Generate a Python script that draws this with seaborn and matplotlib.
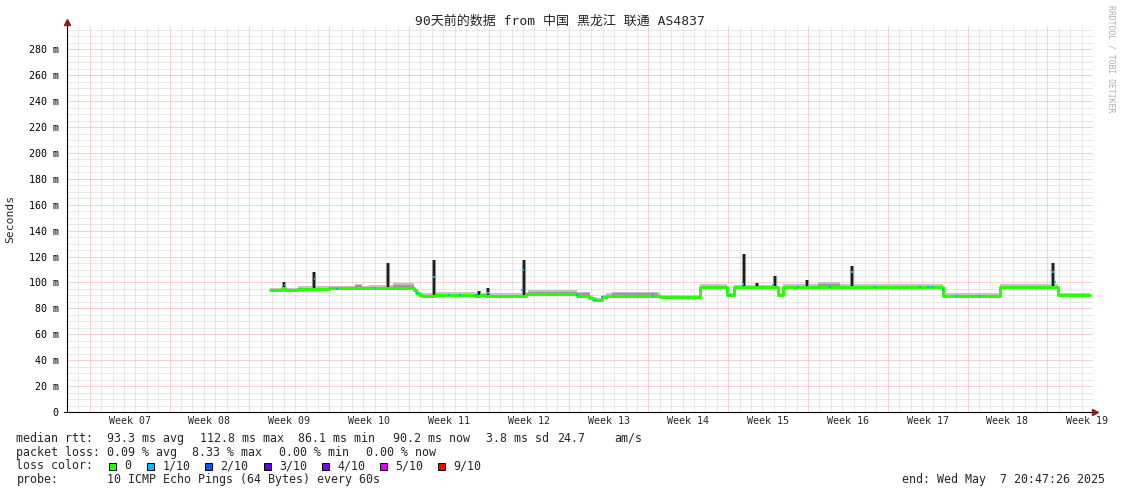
import numpy as np
import matplotlib
matplotlib.use("Agg")
import matplotlib.pyplot as plt
from matplotlib.patches import Rectangle
import seaborn as sns

# ---- data (x = days since start of the 90 day window) ----
med_day = [17.8, 18.9, 19.1, 20.3, 23.0, 25.0, 26.5, 30.4, 30.6, 30.9, 31.1, 32.3,
           34.0, 35.8, 36.2, 36.7, 39.6, 40.3, 42.0, 44.7, 45.8, 46.1, 46.5, 46.9,
           47.3, 49.5, 52.0, 55.5, 57.9, 58.5, 60.0, 62.4, 62.8, 66.0, 69.0, 72.0,
           76.8, 81.8, 84.0, 86.9, 89.7]
med_rtt = [94.0, 95.5, 94.0, 95.2, 95.4, 95.6, 96.0, 94.0, 92.0, 90.5, 89.7, 90.6,
           90.4, 89.8, 90.2, 89.5, 89.5, 90.8, 91.0, 89.5, 88.0, 86.8, 86.2, 88.5,
           89.5, 89.7, 88.4, 96.7, 90.2, 96.2, 96.4, 90.2, 96.7, 96.6, 96.8, 96.6,
           89.7, 96.7, 96.5, 90.2, 90.2]

spike_day = [19.0, 21.7, 28.2, 32.2, 36.1, 36.9, 40.1, 59.4, 60.5, 62.1, 64.9, 68.9, 86.5]
spike_base = [94.0, 95.2, 96.0, 90.0, 89.8, 89.5, 89.5, 96.2, 96.4, 96.4, 96.7, 96.7, 96.5]
spike_top = [100.5, 108.0, 114.7, 117.0, 93.5, 95.6, 117.0, 122.0, 99.5, 105.0, 102.0, 112.6, 114.7]

smoke_start = [25.3, 28.6, 40.4, 44.7, 47.8, 65.9]
smoke_end = [25.9, 30.4, 44.7, 45.9, 51.8, 67.8]
smoke_low = [95.6, 96.0, 90.8, 89.5, 89.5, 96.6]
smoke_high = [99.0, 99.5, 94.0, 92.5, 93.0, 100.5]

blue_day = [19.1, 21.75, 23.7, 27.0, 30.7, 32.2, 33.5, 34.5, 35.9, 36.9, 39.9, 40.0,
            44.7, 46.3, 46.9, 51.4, 58.2, 59.3, 61.9, 64.1, 66.9, 68.9, 70.9, 74.8,
            75.5, 75.9, 76.8, 78.1, 80.1, 86.5, 86.7]
blue_rtt = [98.0, 103.0, 95.2, 95.6, 92.0, 104.0, 90.6, 90.5, 90.2, 92.0, 94.0, 110.0,
            90.0, 86.8, 89.0, 89.7, 90.2, 99.0, 98.0, 96.7, 96.7, 108.0, 96.7, 96.7,
            96.2, 96.5, 94.0, 89.7, 89.7, 108.0, 100.0]

week_names = ["Week 07", "Week 08", "Week 09", "Week 10", "Week 11", "Week 12", "Week 13",
              "Week 14", "Week 15", "Week 16", "Week 17", "Week 18", "Week 19"]
y_tick_vals = [0, 20, 40, 60, 80, 100, 120, 140, 160, 180, 200, 220, 240, 260, 280]
y_tick_text = ["0"] + [f"{v} m" for v in y_tick_vals[1:]]

loss_labels = ["0", "1/10", "2/10", "3/10", "4/10", "5/10", "9/10"]
loss_colors = ["#26ff00", "#00b8ff", "#0059ff", "#5e00ff", "#7e00ff", "#dd00ff", "#ff0000"]

rtt_parts = ["median rtt:", "93.3 ms avg", "112.8 ms max", "86.1 ms min", "90.2 ms now",
             "3.8 ms sd", "24.7", "am/s"]
loss_parts = ["packet loss:", "0.09 % avg", "8.33 % max", "0.00 % min", "0.00 % now"]
probe_parts = ["probe:", "10 ICMP Echo Pings (64 Bytes) every 60s"]
end_text = "end: Wed May  7 20:47:26 2025"
title = "90天前的数据 from 中国 黑龙江 联通 AS4837"

# ---- style ----
sns.set_style("white")
plt.rcParams["font.family"] = ["DejaVu Sans Mono", "Noto Sans CJK SC"]
plt.rcParams["font.size"] = 7.2

W, H = 1121, 494
fig = plt.figure(figsize=(W / 100, H / 100), dpi=100)
ax = fig.add_axes([67 / W, 82 / H, 1026 / W, 386 / H])
ax.set_xlim(0, 90)
ax.set_ylim(0, 298)

first_monday = 2.0
ax.set_xticks(np.arange(first_monday, 90, 7))
ax.set_xticks(np.arange(1, 90, 1), minor=True)
ax.set_xticklabels([])
ax.set_yticks(y_tick_vals)
ax.set_yticklabels(y_tick_text)
ax.set_yticks(np.arange(5, 298, 5), minor=True)

dot = (0, (1, 1))
ax.grid(which="minor", color="#d2d2d2", linestyle=dot, linewidth=0.72)
ax.grid(which="major", color="#f2a6a6", linestyle=dot, linewidth=0.72)
ax.set_axisbelow(True)

ax.tick_params(axis="y", which="major", length=3, width=0.7, pad=3, labelsize=7.2, colors="black")
ax.tick_params(axis="y", which="minor", length=2, width=0.7, color="#555555")
ax.tick_params(axis="x", which="both", length=2, width=0.7, color="#555555")

for s in ["top", "right", "left", "bottom"]:
    ax.spines[s].set_visible(False)

# axes with arrows
ax.plot([0, 0], [0, 1.012], transform=ax.transAxes, color="black", lw=0.8, clip_on=False)
ax.plot([-0.003, 1.003], [0, 0], transform=ax.transAxes, color="black", lw=0.8, clip_on=False)
ax.plot([0], [1.011], transform=ax.transAxes, marker="^", ms=4, color="#8b1a1a", clip_on=False)
ax.plot([1.002], [0], transform=ax.transAxes, marker=">", ms=4, color="#8b1a1a", clip_on=False)

# smoke
med_day_a = np.array(med_day)
med_rtt_a = np.array(med_rtt)
ax.fill_between(med_day_a, med_rtt_a - 1.2, med_rtt_a + 2.0, step="post", color="#c4c4c4", lw=0)
for s, e, lo, hi in zip(smoke_start, smoke_end, smoke_low, smoke_high):
    ax.fill_between([s, e], [lo, lo], [hi, hi], color="#c0c0c0", lw=0)
    ax.fill_between([s, e], [lo, lo], [(lo + 2 * hi) / 3] * 2, color="#9a9a9a", lw=0)

ax.vlines(spike_day, spike_base, spike_top, color="#a0a0a0", lw=3.0)
ax.vlines(spike_day, spike_base, spike_top, color="#1e1e1e", lw=1.6)

# median rtt line
sns.lineplot(x=med_day, y=med_rtt, ax=ax, color="#26ff00", lw=2.1,
             drawstyle="steps-post", estimator=None, sort=False)
ax.plot(blue_day, blue_rtt, linestyle="none", marker="s", ms=2.1, color="#00b8ff", mew=0)
ax.set_xlabel("")
ax.set_ylabel("")

# week labels
trans = ax.get_xaxis_transform()
for i, name in enumerate(week_names):
    ax.text(first_monday + 3.5 + 7 * i, -9 / 386, name, transform=trans,
            ha="center", va="center", fontsize=7.2)

# texts around the chart
fig.text(560 / W, 1 - 21 / H, title, ha="center", va="center", fontsize=9.4)
fig.text(10 / W, 1 - 219 / H, "Seconds", rotation=90, ha="center", va="center", fontsize=8.2)
fig.text(1111 / W, 1 - 5 / H, "RRDTOOL / TOBI OETIKER", rotation=270, ha="center", va="top",
         fontsize=5.9, color="#b0b0b0")

fs = 8.4


def line_text(x_px, base_px, txt, ha="left"):
    fig.text(x_px / W, 1 - base_px / H, txt, ha=ha, va="baseline", fontsize=fs)


rtt_x = [16.5, 107.3, 200, 297.7, 393, 486, 557, 614]
for txt, x0 in zip(rtt_parts, rtt_x):
    line_text(x0, 441.5, txt)
loss_x = [16.5, 107.3, 192, 279, 366]
for txt, x0 in zip(loss_parts, loss_x):
    line_text(x0, 455.5, txt)
line_text(16.5, 469, "loss color:")
probe_x = [16.5, 107.3]
for txt, x0 in zip(probe_parts, probe_x):
    line_text(x0, 483, txt)
line_text(1105.5, 483, end_text, ha="right")

sq_x = [108.8, 147.2, 205.3, 263.8, 322, 379.8, 437.9]
for x0, lab, col in zip(sq_x, loss_labels, loss_colors):
    fig.patches.append(Rectangle((x0 / W, 1 - 469.5 / H), 7 / W, 7 / H, transform=fig.transFigure,
                                 facecolor=col, edgecolor="black", lw=0.7))
    line_text(x0 + 15, 469, lab)

fig.savefig("out.png", dpi=100, facecolor="white")
